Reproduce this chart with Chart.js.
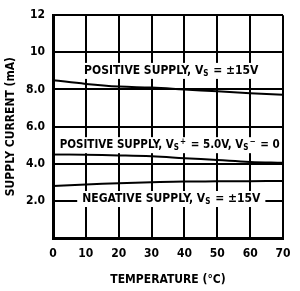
<!DOCTYPE html>
<html><head><meta charset="utf-8">
<script src="https://cdn.jsdelivr.net/npm/chart.js@4"></script>
<style>html,body{margin:0;padding:0;background:#fff}#wrap{width:300px;height:291px}</style>
</head><body><div id="wrap"><canvas id="c" width="300" height="291"></canvas></div>
<script>
const temps = [0, 10, 20, 30, 40, 50, 60, 70];
const posSupply15 = [8.5, 8.3, 8.16, 8.1, 8.0, 7.9, 7.8, 7.72];
const posSupply5 = [4.5, 4.48, 4.45, 4.4, 4.3, 4.2, 4.1, 4.05];
const negSupply15 = [2.8, 2.88, 2.95, 3.0, 3.04, 3.05, 3.06, 3.07];
const yTicks = [2, 4, 6, 8, 10, 12];
const yTickLabels = ['2.0', '4.0', '6.0', '8.0', '10', '12'];
const xTicks = [0, 10, 20, 30, 40, 50, 60, 70];
const curveLabels = [
  {x: 36, y: 9.0, size: 12, parts: [['POSITIVE SUPPLY, V',0],['S',1],[' = \u00b115V',0]]},
  {x: 35.5, y: 5.0, size: 11.5, parts: [['POSITIVE SUPPLY, V',0],['S',1],['+',2],[' = 5.0V, V',0],['S',1],['\u2212',2],[' = 0',0]]},
  {x: 36, y: 2.1, size: 12, parts: [['NEGATIVE SUPPLY, V',0],['S',1],[' = \u00b115V',0]]}
];

const FONT = "'Liberation Sans Narrow', 'DejaVu Sans Condensed', Arial, sans-serif";

const labelPlugin = {
  id: 'curveLabels',
  afterDatasetsDraw(chart) {
    const ctx = chart.ctx, xs = chart.scales.x, ys = chart.scales.y, ca = chart.chartArea;
    ctx.save();
    const small = 'bold 8px ' + FONT;
    curveLabels.forEach(l => {
      const base = 'bold ' + l.size + 'px ' + FONT;
      let w = 0;
      l.parts.forEach(p => { ctx.font = p[1] ? small : base; w += ctx.measureText(p[0]).width + (p[1] ? 1 : 0); });
      const cx = xs.getPixelForValue(l.x), cy = ys.getPixelForValue(l.y);
      let x0 = cx - w / 2;
      const bl = Math.max(x0 - 5, ca.left + 2), br = Math.min(x0 + w + 5, ca.right - 1);
      ctx.fillStyle = '#fff';
      ctx.fillRect(bl, cy - 8, br - bl, 16);
      ctx.fillStyle = '#000';
      ctx.textBaseline = 'middle';
      ctx.textAlign = 'left';
      l.parts.forEach(p => {
        ctx.font = p[1] ? small : base;
        let dy = p[1] === 1 ? 3 : (p[1] === 2 ? -3 : 0);
        ctx.fillText(p[0], x0, cy + dy);
        x0 += ctx.measureText(p[0]).width + (p[1] ? 1 : 0);
      });
    });
    ctx.restore();
  }
};

new Chart(document.getElementById('c'), {
  type: 'line',
  data: {
    datasets: [
      {data: temps.map((t,i)=>({x:t,y:posSupply15[i]})), borderColor:'#000', borderWidth:2, pointRadius:0, tension:0.4, fill:false},
      {data: temps.map((t,i)=>({x:t,y:posSupply5[i]})), borderColor:'#000', borderWidth:2, pointRadius:0, tension:0.4, fill:false},
      {data: temps.map((t,i)=>({x:t,y:negSupply15[i]})), borderColor:'#000', borderWidth:2, pointRadius:0, tension:0.4, fill:false}
    ]
  },
  options: {
    responsive: false, animation: false,
    layout: {padding: {left: 0, right: 17, top: 13, bottom: 0}},
    plugins: {legend: {display: false}, tooltip: {enabled: false}},
    scales: {
      x: {
        type: 'linear', min: 0, max: 70,
        afterBuildTicks: s => { s.ticks = xTicks.map(v => ({value: v})); },
        afterFit: s => { s.height = 53; },
        grid: {color: '#000', lineWidth: 2, drawTicks: false},
        border: {color: '#000', width: 3},
        ticks: {color: '#000', padding: 9, maxRotation: 0, font: {family: FONT, size: 12, weight: 'bold'}},
        title: {display: true, text: 'TEMPERATURE (\u00b0C)', color: '#000', padding: {top: 8}, font: {family: FONT, size: 12, weight: 'bold'}}
      },
      y: {
        type: 'linear', min: 0, max: 12,
        afterBuildTicks: s => { s.ticks = yTicks.map(v => ({value: v})); },
        afterFit: s => { s.width = 53; },
        grid: {color: '#000', lineWidth: 2, drawTicks: false},
        border: {color: '#000', width: 3},
        ticks: {color: '#000', padding: 8, font: {family: FONT, size: 12, weight: 'bold'},
          callback: v => yTickLabels[yTicks.indexOf(v)]},
        title: {display: true, text: 'SUPPLY CURRENT (mA)', color: '#000', padding: {bottom: 2}, font: {family: FONT, size: 12, weight: 'bold'}}
      }
    }
  },
  plugins: [labelPlugin]
});
</script></body></html>
